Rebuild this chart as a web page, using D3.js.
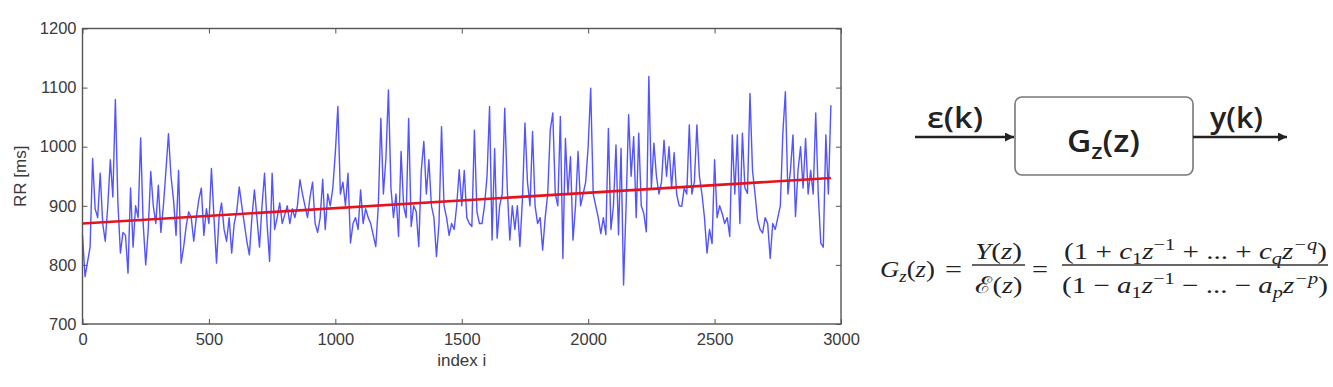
<!DOCTYPE html>
<html>
<head>
<meta charset="utf-8">
<script src="https://cdn.jsdelivr.net/npm/d3@7"></script>
<style>
	body { margin: 0; background: #fff; }
	text { font-family: "Liberation Sans", Arial, sans-serif; }
</style>
</head>
<body>
<svg id="chart"></svg>
<script>
// RR intervals [ms], one value read every 10 beats (index 0 .. 2960)
const rrStep = 10;
const rrValues = [
	850, 780, 805, 830, 980, 895, 880, 955, 870, 840, 900, 978, 915, 1080, 905, 820, 855, 850, 786, 930,
	830, 900, 880, 1015, 870, 800, 860, 958, 900, 870, 935, 855, 900, 960, 1022, 950, 910, 850, 960, 803,
	830, 865, 890, 880, 840, 880, 910, 930, 850, 895,
	870, 963, 880, 803, 880, 905, 860, 840, 880, 820, 870, 890, 932, 900, 870, 840, 817, 880, 927, 880,
	830, 900, 955, 870, 806, 955, 860, 880, 905, 870, 885, 900, 870, 895, 880, 900, 944, 920, 900, 880,
	915, 940, 870, 855, 880, 945, 860, 920, 900, 930,
	990, 1068, 920, 940, 900, 955, 837, 870, 880, 860, 927, 870, 895, 880, 870, 850, 831, 900, 1048, 920,
	980, 1096, 930, 880, 920, 848, 992, 900, 880, 1048, 865, 900, 890, 831, 960, 1009, 920, 978, 900, 880,
	814, 870, 1034, 900, 880, 850, 870, 860, 900, 961,
	900, 960, 880, 870, 865, 1028, 890, 870, 870, 900, 950, 1068, 842, 997, 845, 900, 920, 1065, 930, 842,
	900, 860, 900, 831, 910, 1040, 940, 900, 1026, 900, 870, 880, 825, 880, 920, 1028, 1057, 920, 900, 1051,
	811, 1014, 920, 983, 842, 900, 992, 900, 920, 940,
	1000, 1099, 920, 900, 880, 853, 880, 851, 1031, 860, 900, 1003, 851, 997, 766, 900, 1054, 950, 1017, 880,
	1023, 900, 887, 856, 1119, 930, 1006, 950, 920, 940, 1011, 950, 1000, 930, 990, 920, 900, 899, 930, 920,
	1037, 920, 940, 1037, 950, 920, 880, 820, 860, 836,
	978, 880, 900, 887, 870, 880, 848, 1020, 920, 1020, 870, 1023, 930, 921, 1090, 960, 920, 876, 860, 854,
	880, 870, 811, 870, 860, 880, 900, 1023, 1093, 920, 960, 1020, 882, 960, 1000, 930, 1014, 920, 960, 920,
	1057, 920, 837, 830, 1020, 920, 1070
];

// linear trend (red)
const trendIndex = [0, 2960];
const trendValues = [870, 947];

const xTicks = [0, 500, 1000, 1500, 2000, 2500, 3000];
const yTicks = [700, 800, 900, 1000, 1100, 1200];
const xLabel = "index i";
const yLabel = "RR [ms]";

const W = 1333;
const H = 387;
const plot = { left: 82.5, right: 841, top: 28.5, bottom: 324 };
const axisColor = "#555";

const svg = d3.select("#chart").attr("width", W).attr("height", H);
svg.append("rect").attr("width", W).attr("height", H).attr("fill", "#fff");

const defs = svg.append("defs");
defs
	.append("marker")
	.attr("id", "arrow")
	.attr("viewBox", "0 -5 10 10")
	.attr("refX", 10)
	.attr("refY", 0)
	.attr("markerUnits", "userSpaceOnUse")
	.attr("markerWidth", 10)
	.attr("markerHeight", 9)
	.attr("orient", "auto")
	.append("path")
	.attr("d", "M0,-5L10,0L0,5Z")
	.style("fill", "#222");

const x = d3.scaleLinear().domain([0, 3000]).range([plot.left, plot.right]);
const y = d3.scaleLinear().domain([700, 1200]).range([plot.bottom, plot.top]);

// series
const rrLine = d3
	.line()
	.x((d, i) => x(i * rrStep))
	.y((d) => y(d));

svg
	.append("path")
	.datum(rrValues)
	.attr("d", rrLine)
	.style("fill", "none")
	.style("stroke", "#2828ff")
	.style("stroke-opacity", 0.8)
	.style("stroke-linejoin", "round")
	.style("stroke-width", "1.4px");

svg
	.append("path")
	.datum(trendIndex.map((d, i) => [d, trendValues[i]]))
	.attr("d", d3.line().x((d) => x(d[0])).y((d) => y(d[1])))
	.style("fill", "none")
	.style("stroke", "#e3141b")
	.style("stroke-width", "2.6px");

// axes, MATLAB style: box with inward ticks on all sides
const styleAxis = (g) => {
	g.select(".domain").remove();
	g.selectAll(".tick line").style("stroke", axisColor);
	g.selectAll(".tick text")
		.style("font-size", "16.5px")
		.style("fill", "#3a3a3a")
		.style("font-family", '"Liberation Sans", Arial, sans-serif');
};
const plain = d3.format("d");

svg
	.append("g")
	.attr("transform", `translate(0,${plot.bottom})`)
	.call(d3.axisBottom(x).tickValues(xTicks).tickFormat(plain).tickSizeInner(-5).tickSizeOuter(0).tickPadding(9))
	.call(styleAxis);
svg
	.append("g")
	.attr("transform", `translate(0,${plot.top})`)
	.call(d3.axisTop(x).tickValues(xTicks).tickSizeInner(-5).tickSizeOuter(0).tickFormat(""))
	.call(styleAxis);
svg
	.append("g")
	.attr("transform", `translate(${plot.left},0)`)
	.call(d3.axisLeft(y).tickValues(yTicks).tickFormat(plain).tickSizeInner(-5).tickSizeOuter(0).tickPadding(6))
	.call(styleAxis);
svg
	.append("g")
	.attr("transform", `translate(${plot.right},0)`)
	.call(d3.axisRight(y).tickValues(yTicks).tickSizeInner(-5).tickSizeOuter(0).tickFormat(""))
	.call(styleAxis);

svg
	.append("rect")
	.attr("x", plot.left)
	.attr("y", plot.top)
	.attr("width", plot.right - plot.left)
	.attr("height", plot.bottom - plot.top)
	.style("fill", "none")
	.style("stroke", axisColor)
	.style("stroke-width", "1.4px");

svg
	.append("text")
	.attr("x", (plot.left + plot.right) / 2)
	.attr("y", 366)
	.attr("text-anchor", "middle")
	.style("font-size", "17px")
	.style("fill", "#3a3a3a")
	.text(xLabel);

svg
	.append("text")
	.attr("transform", `translate(26,${(plot.top + plot.bottom) / 2}) rotate(-90)`)
	.attr("text-anchor", "middle")
	.style("font-size", "17px")
	.style("fill", "#3a3a3a")
	.text(yLabel);

// place a run of math pieces, then stretch it horizontally to the given width
// piece: [text, flags]  flags: i = italic, b = sub, p = sup
function mathText(parent, x0, baseline, width, size, pieces, family, weight = 400) {
	const g = parent.append("g");
	const t = g
		.append("text")
		.attr("x", 0)
		.attr("y", 0)
		.style("font-family", family)
		.style("font-size", size + "px")
		.style("font-weight", weight)
		.style("fill", "#222");
	let shift = 0;
	for (const [s, f = ""] of pieces) {
		let target = 0;
		if (f.includes("b")) target = size * 0.22;
		if (f.includes("p")) target = -size * 0.38;
		const ts = t.append("tspan").attr("dy", target - shift).text(s);
		shift = target;
		if (f.includes("i")) ts.style("font-style", "italic");
		if (f.includes("b") || f.includes("p")) ts.style("font-size", size * 0.7 + "px");
	}
	const bb = t.node().getBBox();
	const k = width / bb.width;
	g.attr("transform", `translate(${x0 - bb.x * k},${baseline}) scale(${k},1)`);
	return g;
}

// block diagram
const diag = svg.append("g");
diag
	.append("rect")
	.attr("x", 1015)
	.attr("y", 97)
	.attr("width", 178)
	.attr("height", 78)
	.attr("rx", 7)
	.style("fill", "#fff")
	.style("stroke", "#777")
	.style("stroke-width", "1.6px");

diag
	.append("line")
	.attr("x1", 915).attr("y1", 137).attr("x2", 1014).attr("y2", 137)
	.style("stroke", "#222")
	.style("stroke-width", "2.6px")
	.attr("marker-end", "url(#arrow)");
diag
	.append("line")
	.attr("x1", 1193).attr("y1", 137).attr("x2", 1287).attr("y2", 137)
	.style("stroke", "#222")
	.style("stroke-width", "2.6px")
	.attr("marker-end", "url(#arrow)");

const sansFamily = '"Open Sans", "Noto Sans", sans-serif';
mathText(diag, 927, 128, 56, 28, [["ε(k)"]], sansFamily, 600);
mathText(diag, 1210, 128, 53, 28, [["y(k)"]], sansFamily, 600);
mathText(diag, 1067, 152, 73, 30, [["G"], ["z", "b"], ["(z)"]], sansFamily, 600);

// transfer function
const serif = '"Liberation Serif", "DejaVu Serif", serif';
const eq = svg.append("g");
mathText(eq, 880, 277, 55, 23, [["G", "i"], ["z", "ib"], ["("], ["z", "i"], [")"]], serif);
mathText(eq, 945, 277, 17, 23, [["="]], serif);
mathText(eq, 975, 259, 47, 23, [["Y", "i"], ["("], ["z", "i"], [")"]], serif);
mathText(eq, 975, 293, 47, 23, [["ℰ"], ["("], ["z", "i"], [")"]], serif);
mathText(eq, 1032, 277, 16, 23, [["="]], serif);
mathText(eq, 1064, 259, 263, 23, [
	["(1 + "], ["c", "i"], ["1", "b"], ["z", "i"], ["−1", "p"], [" + ... + "],
	["c", "i"], ["q", "ib"], ["z", "i"], ["−q", "ip"], [")"]
], serif);
mathText(eq, 1062, 293, 266, 23, [
	["(1 − "], ["a", "i"], ["1", "b"], ["z", "i"], ["−1", "p"], [" − ... − "],
	["a", "i"], ["p", "ib"], ["z", "i"], ["−p", "ip"], [")"]
], serif);

eq.append("line")
	.attr("x1", 972).attr("x2", 1025).attr("y1", 265).attr("y2", 265)
	.style("stroke", "#333").style("stroke-width", "1.4px");
eq.append("line")
	.attr("x1", 1062).attr("x2", 1328).attr("y1", 265).attr("y2", 265)
	.style("stroke", "#333").style("stroke-width", "1.4px");
</script>
</body>
</html>
